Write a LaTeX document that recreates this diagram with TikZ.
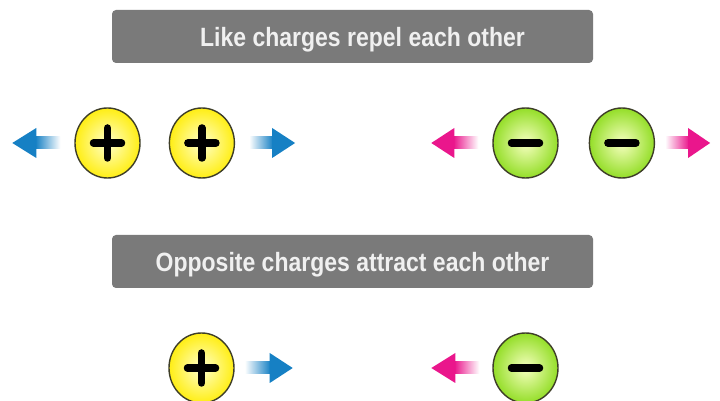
\documentclass[tikz,border=0pt]{standalone}
\usepackage{fontspec}
\setmainfont{Liberation Sans}
\usetikzlibrary{shapes.geometric, positioning}

\definecolor{bannergray}{RGB}{122,122,122}
\definecolor{plusyellow}{RGB}{255,238,20}
\definecolor{minusgreen}{RGB}{148,222,40}
\definecolor{edgedark}{RGB}{62,62,40}
\definecolor{arrowblue}{RGB}{22,128,196}
\definecolor{arrowpink}{RGB}{234,22,140}

\begin{document}
\begin{tikzpicture}[x=1pt, y=1pt,
    banner/.style={rectangle, rounded corners=4pt, fill=bannergray, minimum width=481pt, minimum height=53pt, text height=23pt, text depth=3pt, text=white!94!black, font=\fontsize{23}{26}\selectfont\bfseries},
    charge/.style={ellipse, minimum width=65pt, minimum height=70pt, inner sep=0pt, draw=edgedark, line width=1.4pt},
    proton/.style={charge, inner color=yellow!20!white, outer color=plusyellow, path picture={
        \draw[black, line width=7.5pt, line cap=round]
            ([xshift=-14pt]path picture bounding box.center) -- ([xshift=14pt]path picture bounding box.center)
            ([yshift=-15pt]path picture bounding box.center) -- ([yshift=15pt]path picture bounding box.center);}},
    electron/.style={charge, inner color=green!15!yellow!25!white, outer color=minusgreen, path picture={
        \draw[black, line width=7.5pt, line cap=round]
            ([xshift=-14pt]path picture bounding box.center) -- ([xshift=14pt]path picture bounding box.center);}}
    ]
    \path[clip] (0,0) rectangle (720,401);
    \fill[white] (0,0) rectangle (720,401);

    % Banners
    \node (repel) [banner] at (352.5,364.5) {\hspace*{20pt}\scalebox{1}[1.15]{Like charges repel each other}};
    \node (attract) [banner] at (352.5,139.5) {\scalebox{1}[1.15]{Opposite charges attract each other}};

    % Like charges
    \node (p1) [proton] at (107.5,258) {};
    \node (p2) [proton, right=28pt of p1] {};
    \node (m1) [electron] at (525.5,258) {};
    \node (m2) [electron, right=30pt of m1] {};

    % Opposite charges
    \node (p3) [proton] at (201.5,33) {};
    \node (m3) [electron] at (525.5,33) {};

    % Arrows - repel
    \shade[left color=arrowblue, right color=white] ([xshift=-39pt,yshift=-6pt]p1.west) rectangle ([xshift=-14pt,yshift=6pt]p1.west);
    \fill[arrowblue] ([xshift=-38pt,yshift=15pt]p1.west) -- ([xshift=-62pt]p1.west) -- ([xshift=-38pt,yshift=-15pt]p1.west) -- cycle;
    \shade[left color=white, right color=arrowblue] ([xshift=14pt,yshift=-6pt]p2.east) rectangle ([xshift=38pt,yshift=6pt]p2.east);
    \fill[arrowblue] ([xshift=37pt,yshift=15pt]p2.east) -- ([xshift=60pt]p2.east) -- ([xshift=37pt,yshift=-15pt]p2.east) -- cycle;
    \shade[left color=arrowpink, right color=white] ([xshift=-39pt,yshift=-6pt]m1.west) rectangle ([xshift=-14pt,yshift=6pt]m1.west);
    \fill[arrowpink] ([xshift=-38pt,yshift=15pt]m1.west) -- ([xshift=-61pt]m1.west) -- ([xshift=-38pt,yshift=-15pt]m1.west) -- cycle;
    \shade[left color=white, right color=arrowpink] ([xshift=10pt,yshift=-6pt]m2.east) rectangle ([xshift=34pt,yshift=6pt]m2.east);
    \fill[arrowpink] ([xshift=33pt,yshift=15pt]m2.east) -- ([xshift=55pt]m2.east) -- ([xshift=33pt,yshift=-15pt]m2.east) -- cycle;

    % Arrows - attract
    \shade[left color=white, right color=arrowblue] ([xshift=10pt,yshift=-6pt]p3.east) rectangle ([xshift=36pt,yshift=6pt]p3.east);
    \fill[arrowblue] ([xshift=35pt,yshift=15pt]p3.east) -- ([xshift=58pt]p3.east) -- ([xshift=35pt,yshift=-15pt]p3.east) -- cycle;
    \shade[left color=arrowpink, right color=white] ([xshift=-38pt,yshift=-6pt]m3.west) rectangle ([xshift=-13pt,yshift=6pt]m3.west);
    \fill[arrowpink] ([xshift=-37pt,yshift=15pt]m3.west) -- ([xshift=-61pt]m3.west) -- ([xshift=-37pt,yshift=-15pt]m3.west) -- cycle;
\end{tikzpicture}
\end{document}
